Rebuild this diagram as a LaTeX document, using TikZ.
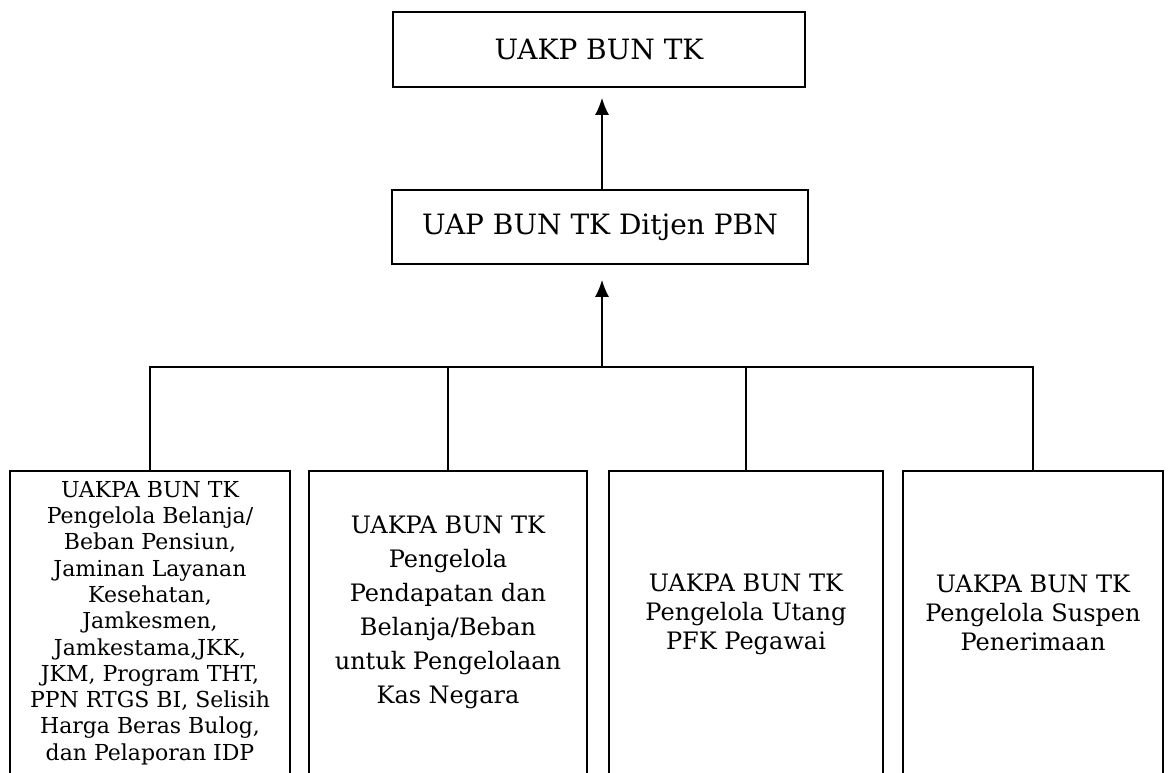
\documentclass[tikz,border=0pt]{standalone}
\usepackage{fontspec}
\setmainfont{DejaVu Serif}
\usetikzlibrary{arrows.meta}
\begin{document}
\begin{tikzpicture}[x=1pt,y=-1pt,
  boxstyle/.style={draw=black,line width=1.8pt,inner sep=0pt},
  topfont/.style={font=\fontsize{28}{33}\selectfont},
  txtstyle/.style={align=center,inner sep=0pt,font=\fontsize{24}{29}\selectfont},
  conn/.style={draw=black,line width=1.5pt},
  arr/.style={conn,-{Latex[length=17pt,width=14pt]}}]
\clip (0,0) rectangle (1169,772);
\fill[white] (0,0) rectangle (1169,772);
% top boxes
\node[boxstyle,topfont,minimum width=412pt,minimum height=75pt] (top) at (599,49.5) {UAKP BUN TK};
\node[boxstyle,topfont,minimum width=416pt,minimum height=74pt] (mid) at (600,227) {UAP BUN TK Ditjen PBN};
\coordinate (j) at (602,367);
% bottom boxes (open at the bottom edge of the page)
\node[boxstyle,minimum width=280pt,minimum height=329pt] (b1) at (150,635.5) {};
\node[boxstyle,minimum width=278pt,minimum height=329pt] (b2) at (448,635.5) {};
\node[boxstyle,minimum width=274pt,minimum height=329pt] (b3) at (746,635.5) {};
\node[boxstyle,minimum width=260pt,minimum height=329pt] (b4) at (1033,635.5) {};
% texts
\node[txtstyle,font=\fontsize{22}{26.3}\selectfont] (t1) at (150,623) {UAKPA BUN TK\\Pengelola Belanja/\\Beban Pensiun,\\Jaminan Layanan\\Kesehatan,\\Jamkesmen,\\Jamkestama,JKK,\\JKM, Program THT,\\PPN RTGS BI, Selisih\\Harga Beras Bulog,\\dan Pelaporan IDP};
\node[txtstyle,font=\fontsize{24}{34}\selectfont] (t2) at (448,612) {UAKPA BUN TK\\Pengelola\\Pendapatan dan\\Belanja/Beban\\untuk Pengelolaan\\Kas Negara};
\node[txtstyle] (t3) at (746,614) {UAKPA BUN TK\\Pengelola Utang\\PFK Pegawai};
\node[txtstyle] (t4) at (1033,613) {UAKPA BUN TK\\Pengelola Suspen\\Penerimaan};
% connectors
\draw[arr,shorten >=10pt] (mid.north -| j) -- (top.south -| j);
\draw[arr,shorten >=15pt] (j) -- (mid.south -| j);
\draw[conn] (b1.north) |- (b4.north |- j) -- (b4.north);
\draw[conn] (b2.north) -- (b2.north |- j);
\draw[conn] (b3.north) -- (b3.north |- j);
\end{tikzpicture}
\end{document}
